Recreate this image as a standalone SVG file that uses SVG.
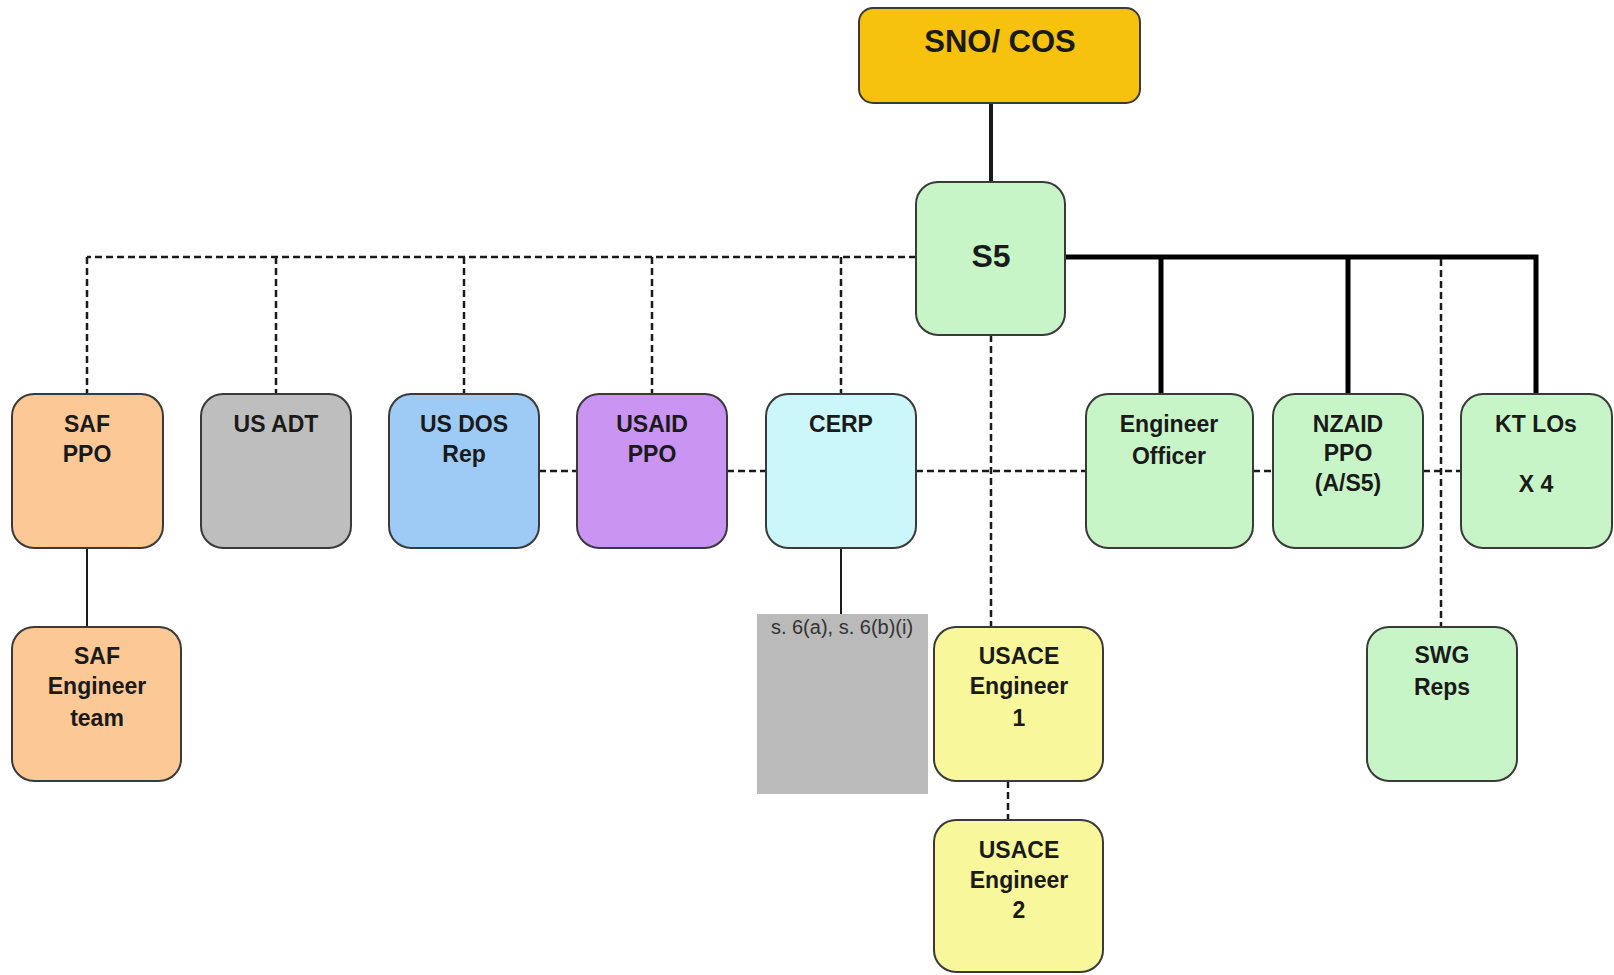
<svg xmlns="http://www.w3.org/2000/svg" width="1614" height="975" viewBox="0 0 1614 975">
<style>
.box{stroke:#3a3a3a;stroke-width:2}
.t{font-family:"Liberation Sans",Arial,sans-serif;font-weight:bold;font-size:23px;fill:#1a1a1a;text-anchor:middle}
.r{font-family:"Liberation Sans",Arial,sans-serif;font-size:20px;fill:#333333;text-anchor:middle}
.dash{stroke:#1a1a1a;stroke-width:2.5;stroke-dasharray:7,4;fill:none}
.solid{stroke:#1a1a1a;stroke-width:2;fill:none}
.thick{stroke:#000;stroke-width:5;fill:none}
.orange{fill:#FCC996}.gray{fill:#BEBEBE}.blue{fill:#9DCBF6}.purple{fill:#C994F2}
.cyan{fill:#CCF7FA}.green{fill:#C8F5C8}.yellow{fill:#F8F79C}.gold{fill:#F7C20E}
</style>
<rect width="1614" height="975" fill="#ffffff"/>
<g id="connectors">
<line class="solid" x1="991" y1="103" x2="991" y2="182" style="stroke-width:4"/>
<path class="dash" d="M916 257 H87 M87 257 V394 M276 257 V394 M464 257 V394 M652 257 V394 M841 257 V394"/>
<path class="thick" d="M1065 257 H1536 V394 M1161 257 V394 M1348 257 V394"/>
<path class="dash" d="M1441 259 V627"/>
<path class="dash" d="M991 335 V627"/>
<path class="dash" d="M1008 781 V820"/>
<path class="dash" d="M539 471 H577 M727 471 H766 M916 471 H1086 M1253 471 H1273 M1423 471 H1461"/>
<path class="solid" d="M841 548 V614 M87 548 V627"/>
</g>
<g id="sno"><rect class="box gold" x="859" y="8" width="281" height="95" rx="14"/><text class="t" x="1000" y="52" style="font-size:31px">SNO/ COS</text></g>
<g id="s5"><rect class="box green" x="916" y="182" width="149" height="153" rx="22"/><text class="t" x="991" y="267" style="font-size:32px">S5</text></g>
<g id="saf-ppo"><rect class="box orange" x="12" y="394" width="151" height="154" rx="22"/><text class="t" x="87" y="432">SAF</text><text class="t" x="87" y="462">PPO</text></g>
<g id="us-adt"><rect class="box gray" x="201" y="394" width="150" height="154" rx="22"/><text class="t" x="276" y="432">US ADT</text></g>
<g id="us-dos"><rect class="box blue" x="389" y="394" width="150" height="154" rx="22"/><text class="t" x="464" y="432">US DOS</text><text class="t" x="464" y="462">Rep</text></g>
<g id="usaid"><rect class="box purple" x="577" y="394" width="150" height="154" rx="22"/><text class="t" x="652" y="432">USAID</text><text class="t" x="652" y="462">PPO</text></g>
<g id="cerp"><rect class="box cyan" x="766" y="394" width="150" height="154" rx="22"/><text class="t" x="841" y="432">CERP</text></g>
<g id="eng-officer"><rect class="box green" x="1086" y="394" width="167" height="154" rx="22"/><text class="t" x="1169" y="432">Engineer</text><text class="t" x="1169" y="464">Officer</text></g>
<g id="nzaid"><rect class="box green" x="1273" y="394" width="150" height="154" rx="22"/><text class="t" x="1348" y="432">NZAID</text><text class="t" x="1348" y="461">PPO</text><text class="t" x="1348" y="491">(A/S5)</text></g>
<g id="kt-los"><rect class="box green" x="1461" y="394" width="151" height="154" rx="22"/><text class="t" x="1536" y="432">KT LOs</text><text class="t" x="1536" y="492">X 4</text></g>
<g id="saf-eng"><rect class="box orange" x="12" y="627" width="169" height="154" rx="22"/><text class="t" x="97" y="664">SAF</text><text class="t" x="97" y="694">Engineer</text><text class="t" x="97" y="726">team</text></g>
<g id="redacted"><rect x="757" y="614" width="171" height="180" fill="#BABABA"/><text class="r" x="842" y="634">s. 6(a), s. 6(b)(i)</text></g>
<g id="usace1"><rect class="box yellow" x="934" y="627" width="169" height="154" rx="22"/><text class="t" x="1019" y="664">USACE</text><text class="t" x="1019" y="694">Engineer</text><text class="t" x="1019" y="726">1</text></g>
<g id="usace2"><rect class="box yellow" x="934" y="820" width="169" height="152" rx="22"/><text class="t" x="1019" y="858">USACE</text><text class="t" x="1019" y="888">Engineer</text><text class="t" x="1019" y="918">2</text></g>
<g id="swg"><rect class="box green" x="1367" y="627" width="150" height="154" rx="22"/><text class="t" x="1442" y="663">SWG</text><text class="t" x="1442" y="695">Reps</text></g>
</svg>
